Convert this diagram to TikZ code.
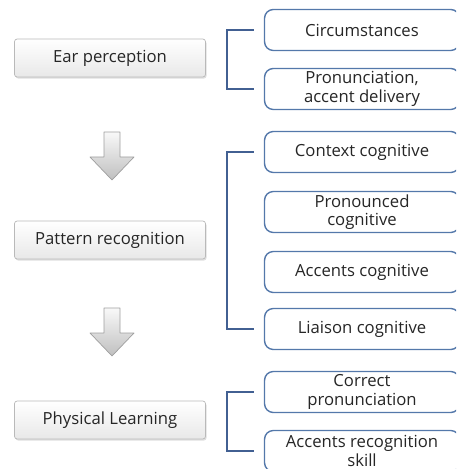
\documentclass[tikz,border=0pt]{standalone}
\usepackage{fontspec}
\setmainfont{Open Sans}
\usetikzlibrary{positioning,shadows}
\definecolor{frame}{RGB}{84,120,170}
\definecolor{brace}{RGB}{66,96,146}

\begin{document}
\begin{tikzpicture}[x=0.02cm, y=-0.02cm, font=\fontsize{9.5}{10.5}\selectfont, text=black!85]
  \tikzset{
    stage/.style={draw=gray!55, top color=white, bottom color=gray!18, rounded corners=1.5pt,
      minimum width=3.82cm, minimum height=0.76cm,
      drop shadow={opacity=0.25, shadow xshift=0.6pt, shadow yshift=-0.9pt}},
    item/.style={draw=frame, thick, fill=white, rounded corners=5pt, align=center,
      minimum width=3.9cm, minimum height=0.82cm, inner sep=1pt},
    down/.pic={
      \shade[draw=gray!75, top color=gray!5, bottom color=gray!50, line join=round]
        (-8,0) -- (-8,25) -- (-22,25) -- (0,48) -- (22,25) -- (8,25) -- (8,0) -- cycle;
    },
    brk/.style={draw=brace, thick}
  }
  \useasboundingbox (0,0) rectangle (456,469);
  \clip (0,0) rectangle (456,469);

  % stages on the left
  \node[stage] (ear) at (110,58) {Ear perception};
  \node[stage] (pat) at (110,240) {Pattern recognition};
  \node[stage] (phy) at (110,420) {Physical Learning};
  \pic (a1) at (112,132) {down};
  \pic (a2) at (112,308) {down};

  % items on the right
  \node[item] (circ) at (362,30) {Circumstances};
  \node[item] (pron) at (362,89) {Pronunciation,\\ accent delivery};
  \node[item] (ctx) at (362,152) {Context cognitive};
  \node[item] (pnc) at (362,212) {Pronounced\\ cognitive};
  \node[item] (acc) at (362,272) {Accents cognitive};
  \node[item] (lia) at (362,329) {Liaison cognitive};
  \node[item] (cor) at (362,392) {Correct\\ pronunciation};
  \node[item] (skl) at (362,451) {Accents recognition\\ skill};

  % brackets
  \draw[brk] ([xshift=-0.2cm]circ.west) -- ++(-27,0) |- ([xshift=-0.2cm]pron.west);
  \draw[brk] ([xshift=-0.2cm]ctx.west) -- ++(-27,0) |- ([xshift=-0.2cm]lia.west);
  \draw[brk] ([xshift=-0.2cm]cor.west) -- ++(-27,0) |- ([xshift=-0.2cm]skl.west);
\end{tikzpicture}
\end{document}
